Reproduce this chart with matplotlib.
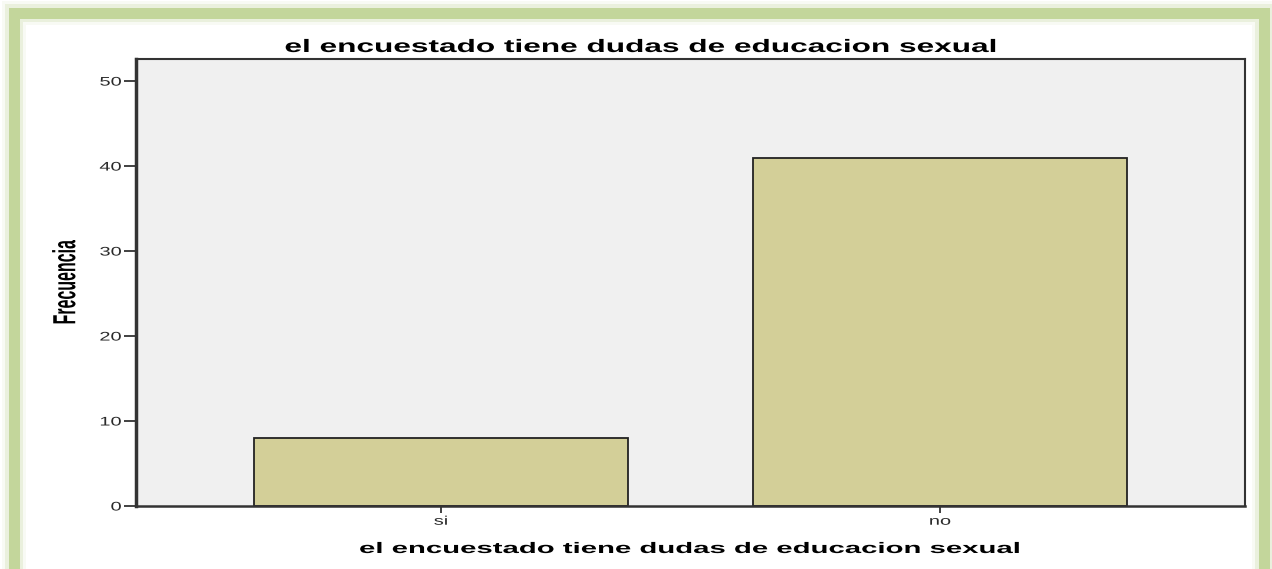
import matplotlib.pyplot as plt
from matplotlib.patches import Rectangle
from matplotlib.patheffects import AbstractPathEffect
from matplotlib.transforms import Affine2D

# respuestas y frecuencias
categorias = ["si", "no"]
frecuencias = [8, 41]
titulo = "el encuestado tiene dudas de educacion sexual"
etiqueta_y = "Frecuencia"

plt.rcParams['font.family'] = ['Liberation Sans', 'DejaVu Sans']


# la imagen original viene estirada a lo ancho: estiramos los glifos en x
class Estirar(AbstractPathEffect):
    def __init__(self, sx, ancla='center'):
        super().__init__()
        self.sx = sx
        self.ancla = ancla

    def draw_path(self, renderer, gc, tpath, affine, rgbFace=None):
        ext = tpath.get_extents(affine)
        if self.ancla == 'right':
            cx = ext.x1
        elif self.ancla == 'left':
            cx = ext.x0
        else:
            cx = (ext.x0 + ext.x1) / 2
        t = Affine2D(affine.get_matrix()).translate(-cx, 0).scale(self.sx, 1).translate(cx, 0)
        renderer.draw_path(gc, tpath, t, rgbFace)


W, H = 1272, 569
fig = plt.figure(figsize=(W / 100, H / 100), dpi=100)
fig.patch.set_facecolor('white')

# marco verde con brillo
for lw, alpha in [(24, 0.10), (18, 0.25), (11, 1.0)]:
    fig.patches.append(Rectangle((14 / W, -0.2), (1264 - 14) / W, (H - 13) / H + 0.2,
                                 transform=fig.transFigure, fill=False,
                                 edgecolor='#C3D69B', linewidth=lw * 0.72,
                                 alpha=alpha, zorder=0))

ax = fig.add_axes([136 / W, 1 - 506 / H, (1245 - 136) / W, (506 - 59) / H])
ax.set_facecolor('#F0F0F0')

x = list(range(len(categorias)))
ax.bar(x, frecuencias, width=0.75, color='#D3CF98', edgecolor='#222222', linewidth=1.3, zorder=2)

ax.set_xlim(-0.611, 1.611)
ax.set_ylim(0, 52.6)
ax.set_yticks([0, 10, 20, 30, 40, 50])
ax.set_xticks(x)
ax.set_xticklabels(categorias)

for s in ax.spines.values():
    s.set_color('#333333')
    s.set_linewidth(1.5)
ax.spines['left'].set_linewidth(2.5)
ax.spines['bottom'].set_linewidth(1.8)
ax.tick_params(axis='both', direction='out', width=1.3, color='#333333',
               labelsize=9, labelcolor='#2a2a2a')
ax.tick_params(axis='y', length=9, pad=1.5)
ax.tick_params(axis='x', length=5, pad=2)

for lbl in ax.get_yticklabels():
    lbl.set_path_effects([Estirar(1.6, 'right')])
for lbl in ax.get_xticklabels():
    lbl.set_path_effects([Estirar(1.6)])

fig.text(640 / W, 1 - 52 / H, titulo, ha='center', va='baseline', fontsize=13,
         fontweight='bold', path_effects=[Estirar(1.75)])

ax.set_xlabel(titulo, fontsize=11, fontweight='bold', path_effects=[Estirar(1.92)])
ax.xaxis.set_label_coords(0.5, (506 - 553) / 447)
ax.xaxis.label.set_va('baseline')

ax.set_ylabel(etiqueta_y, fontsize=11.5, fontweight='bold', path_effects=[Estirar(2.0)])
ax.yaxis.set_label_coords((65 - 136) / 1109, (506 - 282) / 447)
ax.yaxis.label.set_va('center')

fig.savefig('out.png', dpi=100)
